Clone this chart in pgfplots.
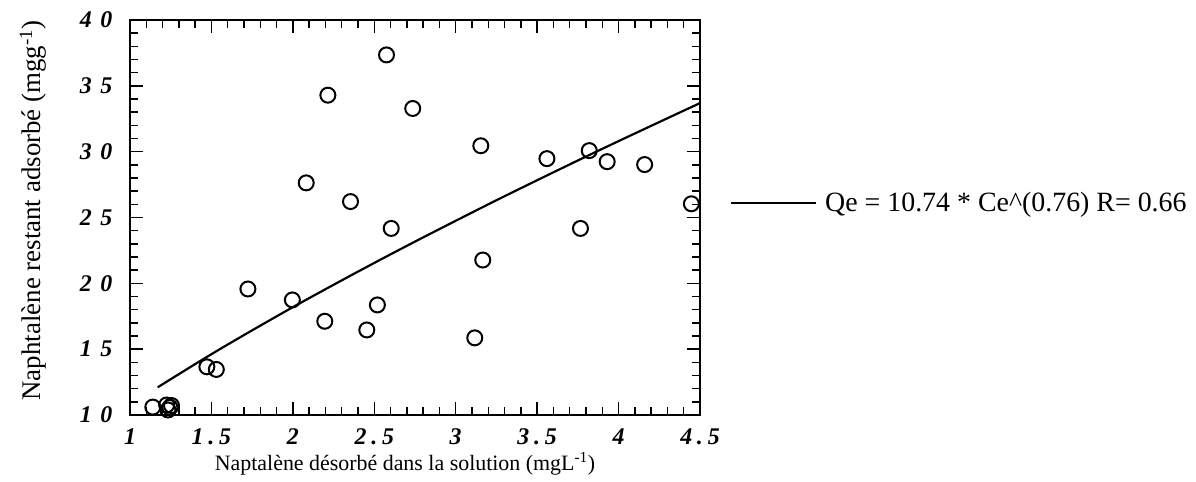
\documentclass[border=0pt]{standalone}
\usepackage{fontspec}
\setmainfont{Liberation Serif}
\usepackage{pgfplots}
\pgfplotsset{compat=1.18}
\newcommand{\tsp}{\hspace{0.2em}}
\newcommand{\ysp}{\hspace{0.36em}}
\begin{document}
\begin{tikzpicture}
\useasboundingbox (-130bp,-67bp) rectangle (1066bp,415bp);
\begin{axis}[
  at={(0bp,0bp)}, anchor=south west,
  scale only axis,
  width=570bp, height=395bp,
  xmin=1, xmax=4.5, ymin=10, ymax=40,
  xtick={1,1.5,2,2.5,3,3.5,4,4.5},
  xticklabels={1,1\tsp.\tsp5,2,2\tsp.\tsp5,3,3\tsp.\tsp5,4,4\tsp.\tsp5},
  ytick={10,15,20,25,30,35,40},
  yticklabels={1\ysp0,1\ysp5,2\ysp0,2\ysp5,3\ysp0,3\ysp5,4\ysp0},
  minor xtick={1.1,1.2,...,4.45},
  minor ytick={11,12,...,39},
  tick align=inside,
  major tick length=13bp,
  minor tick length=8bp,
  tick style={black, line width=1.4pt},
  axis line style={line width=1.8pt},
  tick label style={font=\fontsize{24}{24}\selectfont\bfseries\itshape},
  xticklabel style={anchor=north, yshift=-10bp},
  yticklabel style={anchor=east, xshift=-14bp},
  xlabel={Naptalène désorbé dans la solution (mgL\textsuperscript{-1})},
  ylabel={Naphtalène restant adsorbé (mgg\textsuperscript{-1})},
  xlabel style={font=\fontsize{22}{22}\selectfont, at={([xshift=-10bp,yshift=-55bp]axis description cs:0.5,0)}, anchor=base},
  ylabel style={font=\fontsize{27}{27}\selectfont, at={([xshift=-89bp,yshift=7bp]axis description cs:0,0.5)}, anchor=base},
  legend style={at={([xshift=30bp]axis description cs:1,0.537)}, anchor=west, draw=none, fill=none,
    font=\fontsize{28}{28}\selectfont, inner sep=0pt, outer sep=0pt},
  legend image code/.code={\draw[#1] (0bp,0bp) -- (85bp,0bp);},
  legend cell align=left,
]
\addplot[only marks, mark=o, mark size=7.5bp, mark options={line width=2pt, black}, forget plot] coordinates {
(2.575,37.35) (2.215,34.29) (2.736,33.28) (3.154,30.45) (3.56,29.47)
(3.82,30.08) (3.93,29.24) (4.16,29.02) (2.082,27.63) (2.354,26.21)
(4.447,26.04) (2.604,24.17) (3.766,24.17) (3.166,21.77) (1.724,19.57)
(1.997,18.74) (2.519,18.36) (2.196,17.12) (2.454,16.46) (3.117,15.86)
(1.472,13.66) (1.53,13.46) (1.14,10.6) (1.225,10.76) (1.245,10.58)
(1.233,10.38) (1.255,10.72)
};
\addplot[black, line width=2.2pt, smooth] coordinates {
(1.17,12.10) (1.25,12.72) (1.5,14.62) (1.75,16.43) (2,18.19) (2.25,19.89)
(2.5,21.55) (2.75,23.17) (3,24.75) (3.25,26.31) (3.5,27.83) (3.75,29.33)
(4,30.80) (4.25,32.25) (4.5,33.69)
};
\addlegendentry{\hspace{6bp}Qe = 10.74 * Ce\^{}(0.76) R= 0.66}
\end{axis}
\end{tikzpicture}
\end{document}
